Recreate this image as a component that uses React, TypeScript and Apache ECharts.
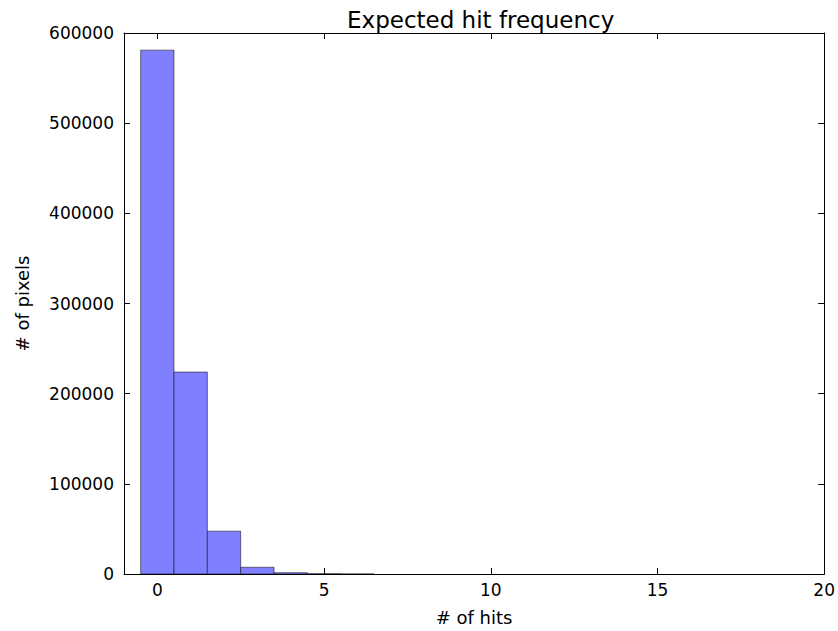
import React, { useEffect, useRef } from "react";
import * as echarts from "echarts";

// Histogram bins: left edge, right edge, pixel count
const binLeft = [-0.5, 0.5, 1.5, 2.5, 3.5, 4.5, 5.5];
const binRight = [0.5, 1.5, 2.5, 3.5, 4.5, 5.5, 6.5];
const pixelCounts = [581000, 224000, 47500, 7500, 1500, 300, 80];

const xTicks = [0, 5, 10, 15, 20];
const FONT = "DejaVu Sans";

export default function App() {
  const ref = useRef<HTMLDivElement>(null);

  useEffect(() => {
    if (!ref.current) return;
    const chart = echarts.init(ref.current, null, { renderer: "svg" });

    const data = binLeft.map((lo, i) => [lo, binRight[i], pixelCounts[i]]);

    const tickStyle = { inside: true, length: 6, lineStyle: { color: "#000", width: 1 } };
    const lineStyle = { show: true, onZero: false, lineStyle: { color: "#000", width: 1 } };

    chart.setOption({
      animation: false,
      backgroundColor: "#fff",
      // title centred over the plot area rather than the whole canvas
      title: {
        text: "Expected hit frequency",
        left: 342,
        top: 3,
        textStyle: { fontFamily: FONT, fontSize: 23, fontWeight: "normal", color: "#000" },
      },
      grid: { left: 124, right: 13, top: 33, bottom: 53, containLabel: false },
      xAxis: [
        {
          type: "value",
          min: -1,
          max: 20,
          position: "bottom",
          axisLine: lineStyle,
          axisTick: { ...tickStyle, customValues: xTicks },
          axisLabel: {
            customValues: xTicks,
            fontFamily: FONT,
            fontSize: 17,
            color: "#000",
            margin: 7,
          },
          splitLine: { show: false },
          name: "# of hits",
          nameLocation: "middle",
          nameGap: 34,
          nameTextStyle: { fontFamily: FONT, fontSize: 18, color: "#000" },
        },
        {
          type: "value",
          min: -1,
          max: 20,
          position: "top",
          axisLine: lineStyle,
          axisTick: { ...tickStyle, customValues: xTicks },
          axisLabel: { show: false },
          splitLine: { show: false },
        },
      ],
      yAxis: [
        {
          type: "value",
          min: 0,
          max: 600000,
          interval: 100000,
          position: "left",
          axisLine: lineStyle,
          axisTick: tickStyle,
          axisLabel: {
            fontFamily: FONT,
            fontSize: 17,
            color: "#000",
            margin: 10,
            formatter: (v: number) => String(v),
          },
          splitLine: { show: false },
          name: "# of pixels",
          nameLocation: "middle",
          nameGap: 93,
          nameTextStyle: { fontFamily: FONT, fontSize: 18, color: "#000" },
        },
        {
          type: "value",
          min: 0,
          max: 600000,
          interval: 100000,
          position: "right",
          axisLine: lineStyle,
          axisTick: tickStyle,
          axisLabel: { show: false },
          splitLine: { show: false },
        },
      ],
      series: [
        {
          type: "custom",
          xAxisIndex: 0,
          yAxisIndex: 0,
          encode: { x: [0, 1], y: 2 },
          data,
          renderItem: (_params: any, api: any) => {
            const p0 = api.coord([api.value(0), api.value(2)]);
            const p1 = api.coord([api.value(1), 0]);
            return {
              type: "rect",
              shape: { x: p0[0], y: p0[1], width: p1[0] - p0[0], height: p1[1] - p0[1] },
              style: { fill: "#7f7fff", stroke: "rgba(0,0,0,0.5)", lineWidth: 1 },
            };
          },
        },
      ],
    });

    return () => chart.dispose();
  }, []);

  return <div ref={ref} style={{ width: 838, height: 631, position: "absolute", left: 0, top: 0 }} />;
}
